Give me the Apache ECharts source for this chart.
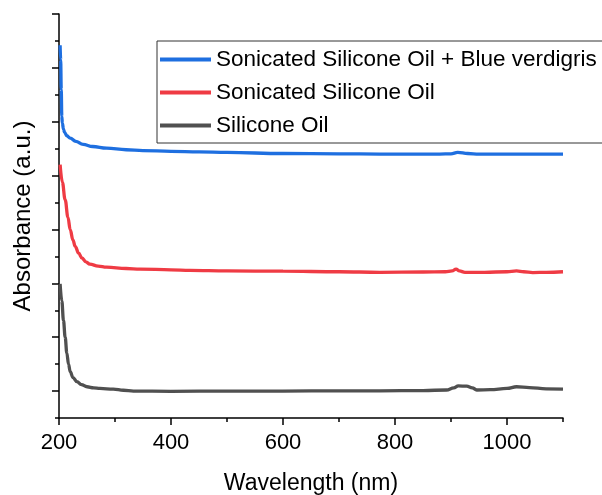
<!DOCTYPE html>
<html>
<head>
<meta charset="utf-8">
<script src="https://cdn.jsdelivr.net/npm/echarts@6/dist/echarts.min.js"></script>
<style>
html,body{margin:0;padding:0;background:#fff;}
#chart{width:602px;height:495px;}
</style>
</head>
<body>
<div id="chart"></div>
<script>
// Series names
const seriesNames = ['Sonicated Silicone Oil + Blue verdigris', 'Sonicated Silicone Oil', 'Silicone Oil'];
// Tick values
const xMajorTicks = [200, 400, 600, 800, 1000];
const xMinorTicks = [300, 500, 700, 900, 1100];
const yMajorTicks = [1, 3, 5, 7, 9, 11, 13, 15];
const yMinorTicks = [0, 2, 4, 6, 8, 10, 12, 14];

// Sonicated Silicone Oil + Blue verdigris
const blueWl  = [202, 203, 204, 205, 206, 208, 210, 214, 220, 230, 243, 260, 285, 320, 350, 400, 450, 500, 600, 700, 773, 880, 900, 912, 930, 950, 1000, 1050, 1100];
const blueAbs = [13.84, 13.3, 12.2, 11.2, 10.95, 10.72, 10.6, 10.48, 10.39, 10.27, 10.16, 10.08, 10.02, 9.96, 9.93, 9.9, 9.88, 9.86, 9.82, 9.81, 9.80, 9.80, 9.81, 9.86, 9.82, 9.80, 9.80, 9.80, 9.80];

// Sonicated Silicone Oil
const redWl  = [202, 206, 211, 216, 220, 225, 229, 235, 241, 248, 255, 270, 285, 320, 345, 400, 434, 500, 600, 700, 773, 850, 890, 902, 909, 915, 925, 960, 1000, 1017, 1030, 1046, 1070, 1100];
const redAbs = [9.41, 8.75, 8.1, 7.45, 6.99, 6.6, 6.37, 6.12, 5.94, 5.8, 5.71, 5.64, 5.60, 5.55, 5.53, 5.50, 5.48, 5.46, 5.45, 5.43, 5.41, 5.42, 5.43, 5.46, 5.53, 5.46, 5.41, 5.41, 5.43, 5.46, 5.43, 5.40, 5.41, 5.43];

// Silicone Oil
const grayWl  = [202, 205, 208, 211, 214, 217, 220, 225, 232, 240, 250, 262, 273, 297, 315, 333, 400, 500, 600, 700, 773, 850, 892, 905, 913, 928, 938, 946, 970, 1000, 1017, 1040, 1070, 1100];
const grayAbs = [4.98, 4.35, 3.62, 3.0, 2.41, 2.0, 1.72, 1.5, 1.35, 1.24, 1.16, 1.12, 1.10, 1.07, 1.03, 1.00, 0.99, 1.00, 1.00, 1.01, 1.01, 1.02, 1.04, 1.12, 1.19, 1.18, 1.12, 1.04, 1.05, 1.10, 1.16, 1.13, 1.08, 1.07];

function zip(xs, ys) { return xs.map((x, i) => [x, ys[i]]); }

const FONT = '"Liberation Sans", Arial, sans-serif';
const colors = ['#1e6fe0', '#ef3b44', '#505050'];

const chart = echarts.init(document.getElementById('chart'), null, {renderer: 'canvas'});

function lineSeries(name, data, color) {
  return {
    name: name,
    type: 'line',
    data: data,
    symbol: 'none',
    smooth: 0.4,
    smoothMonotone: 'x',
    lineStyle: {width: 3.3, color: color},
    itemStyle: {color: color},
    xAxisIndex: 0,
    yAxisIndex: 0,
    z: 3
  };
}

chart.setOption({
  animation: false,
  backgroundColor: '#fff',
  grid: {left: 59, right: 39, top: 14, bottom: 77, containLabel: false, outerBoundsMode: 'none'},
  legend: {
    orient: 'vertical',
    left: 157,
    top: 41,
    padding: [7, 6, 6, 3],
    icon: 'rect',
    itemWidth: 51,
    itemHeight: 4,
    itemGap: 10,
    borderColor: '#333',
    borderWidth: 1,
    textStyle: {fontFamily: FONT, fontSize: 22.5, color: '#000', lineHeight: 20},
    data: seriesNames
  },
  xAxis: [
    {
      type: 'value', min: 200, max: 1100, position: 'bottom',
      name: 'Wavelength (nm)', nameLocation: 'middle', nameGap: 54,
      nameTextStyle: {fontFamily: FONT, fontSize: 23, color: '#000'},
      axisLine: {show: true, onZero: false, lineStyle: {color: '#000', width: 1.5}},
      axisTick: {show: true, inside: false, length: 7, customValues: xMajorTicks, lineStyle: {color: '#000', width: 1.5}},
      axisLabel: {show: true, customValues: xMajorTicks, margin: 14, fontFamily: FONT, fontSize: 22, color: '#000',
                  formatter: function (v) { return String(v); }},
      splitLine: {show: false}
    },
    {
      type: 'value', min: 200, max: 1100, position: 'bottom', offset: 0,
      axisLine: {show: false},
      axisTick: {show: true, inside: false, length: 4, customValues: xMinorTicks, lineStyle: {color: '#000', width: 1.5}},
      axisLabel: {show: false},
      splitLine: {show: false}
    }
  ],
  yAxis: [
    {
      type: 'value', min: 0, max: 15, position: 'left',
      name: 'Absorbance (a.u.)', nameLocation: 'middle', nameGap: 24,
      nameTextStyle: {fontFamily: FONT, fontSize: 24, color: '#000'},
      axisLine: {show: true, onZero: false, lineStyle: {color: '#000', width: 1.5}},
      axisTick: {show: true, inside: false, length: 7, customValues: yMajorTicks, lineStyle: {color: '#000', width: 1.5}},
      axisLabel: {show: false},
      splitLine: {show: false}
    },
    {
      type: 'value', min: 0, max: 15, position: 'left', offset: 0,
      axisLine: {show: false},
      axisTick: {show: true, inside: false, length: 4, customValues: yMinorTicks, lineStyle: {color: '#000', width: 1.5}},
      axisLabel: {show: false},
      splitLine: {show: false}
    }
  ],
  series: [
    lineSeries(seriesNames[0], zip(blueWl, blueAbs), colors[0]),
    lineSeries(seriesNames[1], zip(redWl, redAbs), colors[1]),
    lineSeries(seriesNames[2], zip(grayWl, grayAbs), colors[2])
  ]
});
</script>
</body>
</html>
